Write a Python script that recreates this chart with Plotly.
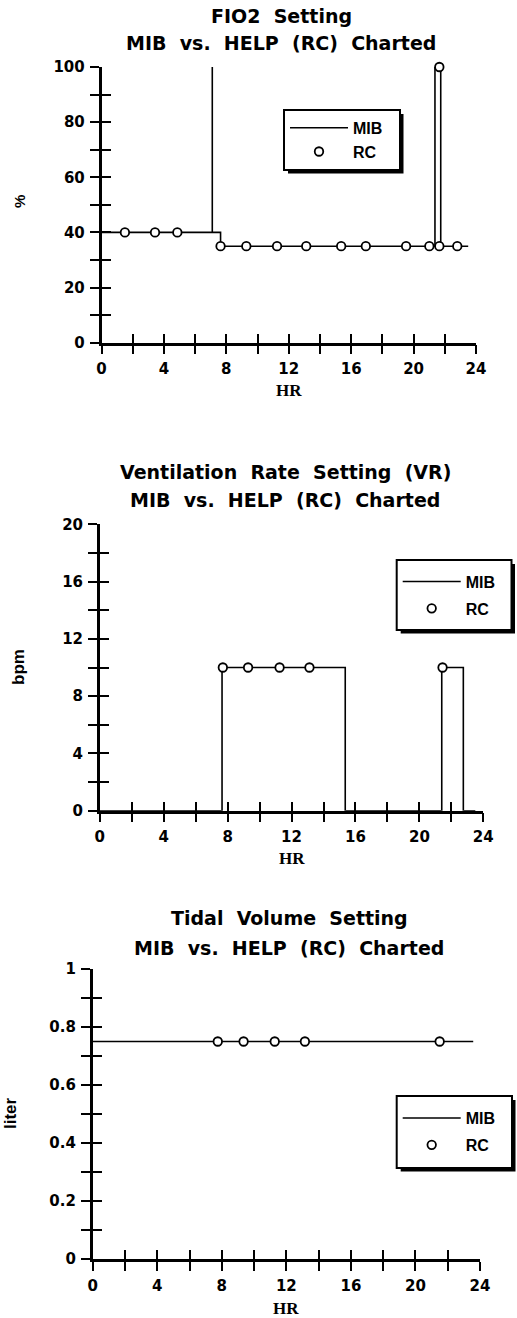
import plotly.graph_objects as go

W, H = 517, 1318

# ---------------- data ----------------
hr_ticks = [0, 4, 8, 12, 16, 20, 24]

fio2_mib_hr = [0, 7.1, 7.1, 7.63, 21.37, 21.74, 23.5]
fio2_mib = [40, 100, 40, 35, 100, 35, 35]
fio2_rc_hr = [1.5, 3.43, 4.86, 7.63, 9.28, 11.25, 13.12, 15.36, 16.94, 19.52,
              21.01, 21.65, 21.65, 22.8]
fio2_rc = [40, 40, 40, 35, 35, 35, 35, 35, 35, 35, 35, 35, 100, 35]

vr_mib_hr = [0, 7.65, 15.36, 21.4, 22.75, 23.5]
vr_mib = [0, 10, 0, 10, 0, 0]
vr_rc_hr = [7.7, 9.28, 11.25, 13.12, 21.45]
vr_rc = [10, 10, 10, 10, 10]

tv_mib_hr = [0, 23.58]
tv_mib = [0.75, 0.75]
tv_rc_hr = [7.75, 9.35, 11.28, 13.15, 21.5]
tv_rc = [0.75, 0.75, 0.75, 0.75, 0.75]

NB = "\u00a0\u00a0"
titles = [("FIO2" + NB + "Setting", NB.join(["MIB", "vs.", "HELP", "(RC)", "Charted"])),
          (NB.join(["Ventilation", "Rate", "Setting", "(VR)"]),
           NB.join(["MIB", "vs.", "HELP", "(RC)", "Charted"])),
          (NB.join(["Tidal", "Volume", "Setting"]),
           NB.join(["MIB", "vs.", "HELP", "(RC)", "Charted"]))]
y_titles = ["%", "bpm", "liter"]

# ---------------- layout geometry (pixels) ----------------
def px(x):
    return x / W

def py(y):
    return 1 - y / H

LEG_FS = 16
panels = [
    dict(x0=101.5, x1=476.0, y0=67.0, y1=342.7, yr=[0, 100], dt=20, mdt=10,
         t1=15.5, t2=42.5, tx=281, hry=390, yt=(19, 202), ytsize=15,
         box=(284, 110, 400, 170), rowmid=139.2, gap=0),
    dict(x0=99.8, x1=483.3, y0=524.3, y1=810.7, yr=[0, 20], dt=4, mdt=2,
         t1=472, t2=500.5, tx=285, hry=858, yt=(18, 667), ytsize=17,
         box=(396.7, 560, 511.5, 630), rowmid=594.5, gap=3),
    dict(x0=92.7, x1=480.0, y0=969.0, y1=1259.0, yr=[0, 1], dt=0.2, mdt=0.1,
         t1=918, t2=948, tx=289, hry=1308, yt=(10, 1113), ytsize=17,
         box=(396.7, 1096, 512, 1168), rowmid=1131, gap=3),
]

series = [(fio2_mib_hr, fio2_mib, fio2_rc_hr, fio2_rc),
          (vr_mib_hr, vr_mib, vr_rc_hr, vr_rc),
          (tv_mib_hr, tv_mib, tv_rc_hr, tv_rc)]

fig = go.Figure()
layout = dict(width=W, height=H, margin=dict(l=0, r=0, t=0, b=0, pad=0),
              paper_bgcolor="white", plot_bgcolor="white", autosize=False,
              font=dict(family="Liberation Sans", color="black"))
annotations = []
shapes = []

tickfont = dict(family="DejaVu Sans", size=15, color="black", weight="bold")
TL = 9

for i, (p, s) in enumerate(zip(panels, series)):
    n = i + 1
    xa = "xaxis" if n == 1 else f"xaxis{n}"
    ya = "yaxis" if n == 1 else f"yaxis{n}"
    xr = "x" if n == 1 else f"x{n}"
    yr_ = "y" if n == 1 else f"y{n}"
    on = n + 3
    xo, yo = f"x{on}", f"y{on}"
    dom_x = [px(p["x0"]), px(p["x1"])]
    dom_y = [py(p["y1"]), py(p["y0"])]
    leg = "legend" if n == 1 else f"legend{n}"

    common = dict(showgrid=False, zeroline=False, automargin=False, fixedrange=True)
    layout[xa] = dict(domain=dom_x, anchor=yr_, range=[0, 24], tickmode="array",
                      tickvals=hr_ticks, ticks="outside", ticklen=TL, tickwidth=2,
                      tickcolor="black", showline=True, linecolor="black", linewidth=2.5,
                      tickfont=tickfont, ticklabelstandoff=2,
                      minor=dict(dtick=2, tick0=0, ticks="outside", ticklen=TL,
                                 tickwidth=2, tickcolor="black", showgrid=False), **common)
    layout[ya] = dict(domain=dom_y, anchor=xr, range=p["yr"], dtick=p["dt"], tick0=0,
                      ticks="outside", ticklen=TL, tickwidth=2, tickcolor="black",
                      showline=True, linecolor="black", linewidth=2.5,
                      tickfont=tickfont, ticklabelstandoff=2,
                      minor=dict(dtick=p["mdt"], tick0=0, ticks="outside", ticklen=TL,
                                 tickwidth=2, tickcolor="black", showgrid=False), **common)
    # overlay axes giving the inner half of the crossing ticks
    layout[f"xaxis{on}"] = dict(overlaying=xr, anchor=yo, range=[0, 24], tickmode="array",
                                tickvals=hr_ticks, ticks="inside", ticklen=TL, tickwidth=2,
                                tickcolor="black", showline=False, showticklabels=False,
                                minor=dict(dtick=2, tick0=0, ticks="inside", ticklen=TL,
                                           tickwidth=2, tickcolor="black", showgrid=False),
                                **common)
    layout[f"yaxis{on}"] = dict(overlaying=yr_, anchor=xo, range=p["yr"], dtick=p["dt"],
                                tick0=0, ticks="inside", ticklen=TL, tickwidth=2,
                                tickcolor="black", showline=False, showticklabels=False,
                                minor=dict(dtick=p["mdt"], tick0=0, ticks="inside",
                                           ticklen=TL, tickwidth=2, tickcolor="black",
                                           showgrid=False), **common)
    fig.add_trace(go.Scatter(x=[], y=[], xaxis=xo, yaxis=yo, showlegend=False,
                             hoverinfo="skip"))

    mh, mv, rh, rv = s
    fig.add_trace(go.Scatter(x=mh, y=mv, mode="lines", name="MIB", line_shape="hv",
                             line=dict(color="black", width=1.6), xaxis=xr, yaxis=yr_,
                             legend=leg, legendgroup=f"mib{n}"))
    fig.add_trace(go.Scatter(x=rh, y=rv, mode="markers", name="RC", cliponaxis=False,
                             marker=dict(symbol="circle", size=8.5, color="white",
                                         line=dict(color="black", width=1.8)),
                             xaxis=xr, yaxis=yr_, legend=leg, legendgroup=f"rc{n}"))

    bx0, by0, bx1, by1 = p["box"]
    # legend frame with drop shadow
    shapes.append(dict(type="rect", xref="paper", yref="paper",
                       x0=px(bx0 + 4), x1=px(bx1 + 3.5), y0=py(by1 + 3.5), y1=py(by0 + 4),
                       fillcolor="black", line=dict(width=0), layer="below"))
    shapes.append(dict(type="rect", xref="paper", yref="paper",
                       x0=px(bx0), x1=px(bx1), y0=py(by1), y1=py(by0),
                       fillcolor="white", line=dict(width=2, color="black"), layer="below"))
    spacing = 1.3 * LEG_FS + 5 + p["gap"]
    row1 = p["rowmid"] - spacing / 2
    layout[leg] = dict(x=px(bx0 + 1), y=py(row1 - 15.5), xanchor="left", yanchor="top",
                       bgcolor="rgba(0,0,0,0)", borderwidth=0,
                       font=dict(family="Liberation Sans", size=LEG_FS, color="black",
                                 weight="bold"),
                       itemwidth=58, traceorder="grouped", tracegroupgap=p["gap"])

    # titles
    for txt, yy in ((titles[i][0], p["t1"]), (titles[i][1], p["t2"])):
        annotations.append(dict(text=txt, xref="paper", yref="paper", x=px(p["tx"]),
                                y=py(yy), xanchor="center", yanchor="middle",
                                showarrow=False,
                                font=dict(family="DejaVu Sans", size=19,
                                          color="black", weight="bold")))
    # x-axis title
    annotations.append(dict(text="HR", xref="paper", yref="paper",
                            x=px((p["x0"] + p["x1"]) / 2), y=py(p["hry"]),
                            xanchor="center", yanchor="middle", showarrow=False,
                            font=dict(family="Liberation Serif", size=17, color="black",
                                      weight="bold")))
    # y-axis title
    annotations.append(dict(text=y_titles[i], xref="paper", yref="paper",
                            x=px(p["yt"][0]), y=py(p["yt"][1]), xanchor="center",
                            yanchor="middle", showarrow=False, textangle=-90,
                            font=dict(family="Liberation Sans", size=p["ytsize"],
                                      color="black", weight="bold")))

layout["annotations"] = annotations
layout["shapes"] = shapes
fig.update_layout(**layout)

post = ("document.body.style.margin='0';document.body.style.padding='0';"
        "document.body.style.overflow='hidden';"
        "var d=document.getElementById('{plot_id}');"
        "d.style.position='absolute';d.style.left='0px';d.style.top='0px';")
fig.write_html("out.html", post_script=post, config={"displayModeBar": False})
